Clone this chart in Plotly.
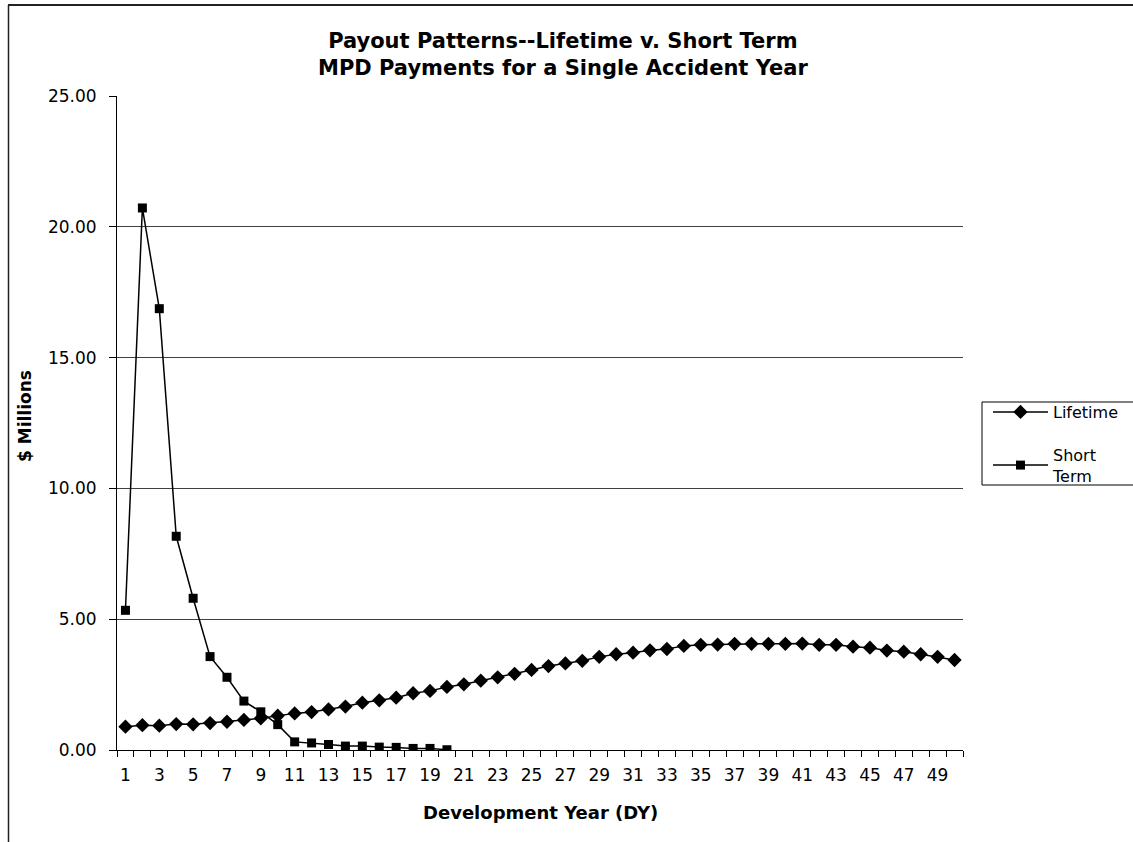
import plotly.graph_objects as go

# ---- data ----
dev_years = list(range(1, 51))
lifetime = [0.89, 0.95, 0.93, 0.99, 0.98, 1.03, 1.08, 1.15, 1.21, 1.31,
            1.40, 1.45, 1.55, 1.66, 1.81, 1.90, 2.00, 2.17, 2.26, 2.41,
            2.51, 2.65, 2.78, 2.91, 3.06, 3.21, 3.31, 3.41, 3.56, 3.66,
            3.72, 3.81, 3.86, 3.98, 4.02, 4.03, 4.06, 4.06, 4.06, 4.06,
            4.07, 4.02, 4.02, 3.95, 3.91, 3.80, 3.76, 3.66, 3.56, 3.44]
short_years = list(range(1, 21))
short_term = [5.34, 20.72, 16.87, 8.17, 5.80, 3.57, 2.78, 1.87, 1.46, 0.97,
              0.31, 0.27, 0.21, 0.15, 0.15, 0.11, 0.10, 0.06, 0.06, 0.01]
x_tick_years = [y for y in dev_years if y % 2 == 1]
x_tick_labels = [str(y) for y in x_tick_years]
y_ticks = [0, 5, 10, 15, 20, 25]

title_text = "Payout Patterns--Lifetime v. Short Term<br>MPD Payments for a Single Accident Year"
x_title = "Development Year (DY)"
y_title = "$ Millions"

FONT = "DejaVu Sans"

fig = go.Figure()
fig.add_trace(go.Scatter(
    x=dev_years, y=lifetime, name="Lifetime", mode="lines+markers",
    line=dict(color="black", width=1.5),
    marker=dict(symbol="diamond", size=11, color="black"),
    legendgroup="a"))
fig.add_trace(go.Scatter(
    x=short_years, y=short_term, name="Short<br>Term", mode="lines+markers",
    line=dict(color="black", width=1.5),
    marker=dict(symbol="square", size=9, color="black"),
    legendgroup="b"))

boundaries = [y - 0.5 for y in dev_years] + [dev_years[-1] + 0.5]

fig.update_xaxes(
    range=[0.5, 50.5], tickmode="array", tickvals=x_tick_years, ticktext=x_tick_labels,
    ticks="", showgrid=False, zeroline=False,
    showline=True, linecolor="black", linewidth=1,
    tickfont=dict(family=FONT, size=17, color="black"),
    ticklabelstandoff=10,
    minor=dict(tickmode="array", tickvals=boundaries, ticks="outside", ticklen=6,
               tickcolor="black", tickwidth=1, showgrid=False))
fig.update_yaxes(
    range=[0, 25], tickmode="array", tickvals=y_ticks, tickformat=".2f",
    ticks="outside", ticklen=7, tickcolor="black",
    showgrid=True, gridcolor="#404040", gridwidth=1, zeroline=False,
    showline=True, linecolor="black", linewidth=1,
    tickfont=dict(family=FONT, size=17, color="black"),
    ticklabelstandoff=9)

W, H = 1133, 842
L, R, T, B = 117, 1133 - 963, 96, 842 - 750
pw, ph = W - L - R, H - T - B

def px(xpix):
    return (xpix - L) / pw

def py(ypix):
    return (H - B - ypix) / ph

fig.add_annotation(text="<b>" + title_text.replace("<br>", "</b><br><b>") + "</b>",
                   x=px(563), y=py(55), xref="paper", yref="paper",
                   xanchor="center", yanchor="middle", showarrow=False,
                   font=dict(family=FONT, size=21, color="black"))
fig.add_annotation(text="<b>" + x_title + "</b>", x=px(540), y=py(812),
                   xref="paper", yref="paper", xanchor="center", yanchor="middle",
                   showarrow=False, font=dict(family=FONT, size=18, color="black"))
fig.add_annotation(text="<b>" + y_title + "</b>", x=px(25), y=py(416),
                   xref="paper", yref="paper", xanchor="center", yanchor="middle",
                   textangle=-90, showarrow=False,
                   font=dict(family=FONT, size=17, color="black"))

# outer chart-area border (only top and left edges fall inside the window)
fig.add_shape(type="line", xref="paper", yref="paper",
              x0=px(8), x1=px(1133), y0=py(5), y1=py(5),
              line=dict(color="#222222", width=2))
fig.add_shape(type="line", xref="paper", yref="paper",
              x0=px(8.5), x1=px(8.5), y0=py(5), y1=py(842),
              line=dict(color="#222222", width=1.5))
# legend box
fig.add_shape(type="rect", xref="paper", yref="paper",
              x0=px(982), x1=px(1160), y0=py(402), y1=py(485),
              line=dict(color="black", width=1), fillcolor="rgba(0,0,0,0)")

fig.update_layout(
    width=W, height=H,
    margin=dict(l=L, r=R, t=T, b=B, autoexpand=False),
    paper_bgcolor="white", plot_bgcolor="white",
    font=dict(family=FONT, color="black"),
    showlegend=True,
    legend=dict(x=px(988), y=py(395), xanchor="left", yanchor="top",
                borderwidth=0, bgcolor="rgba(0,0,0,0)",
                font=dict(family=FONT, size=16, color="black"),
                traceorder="grouped", tracegroupgap=19, itemwidth=55),
)

fig.write_html("out.html", config={"displayModeBar": False},
               post_script="document.body.style.margin='0';")
